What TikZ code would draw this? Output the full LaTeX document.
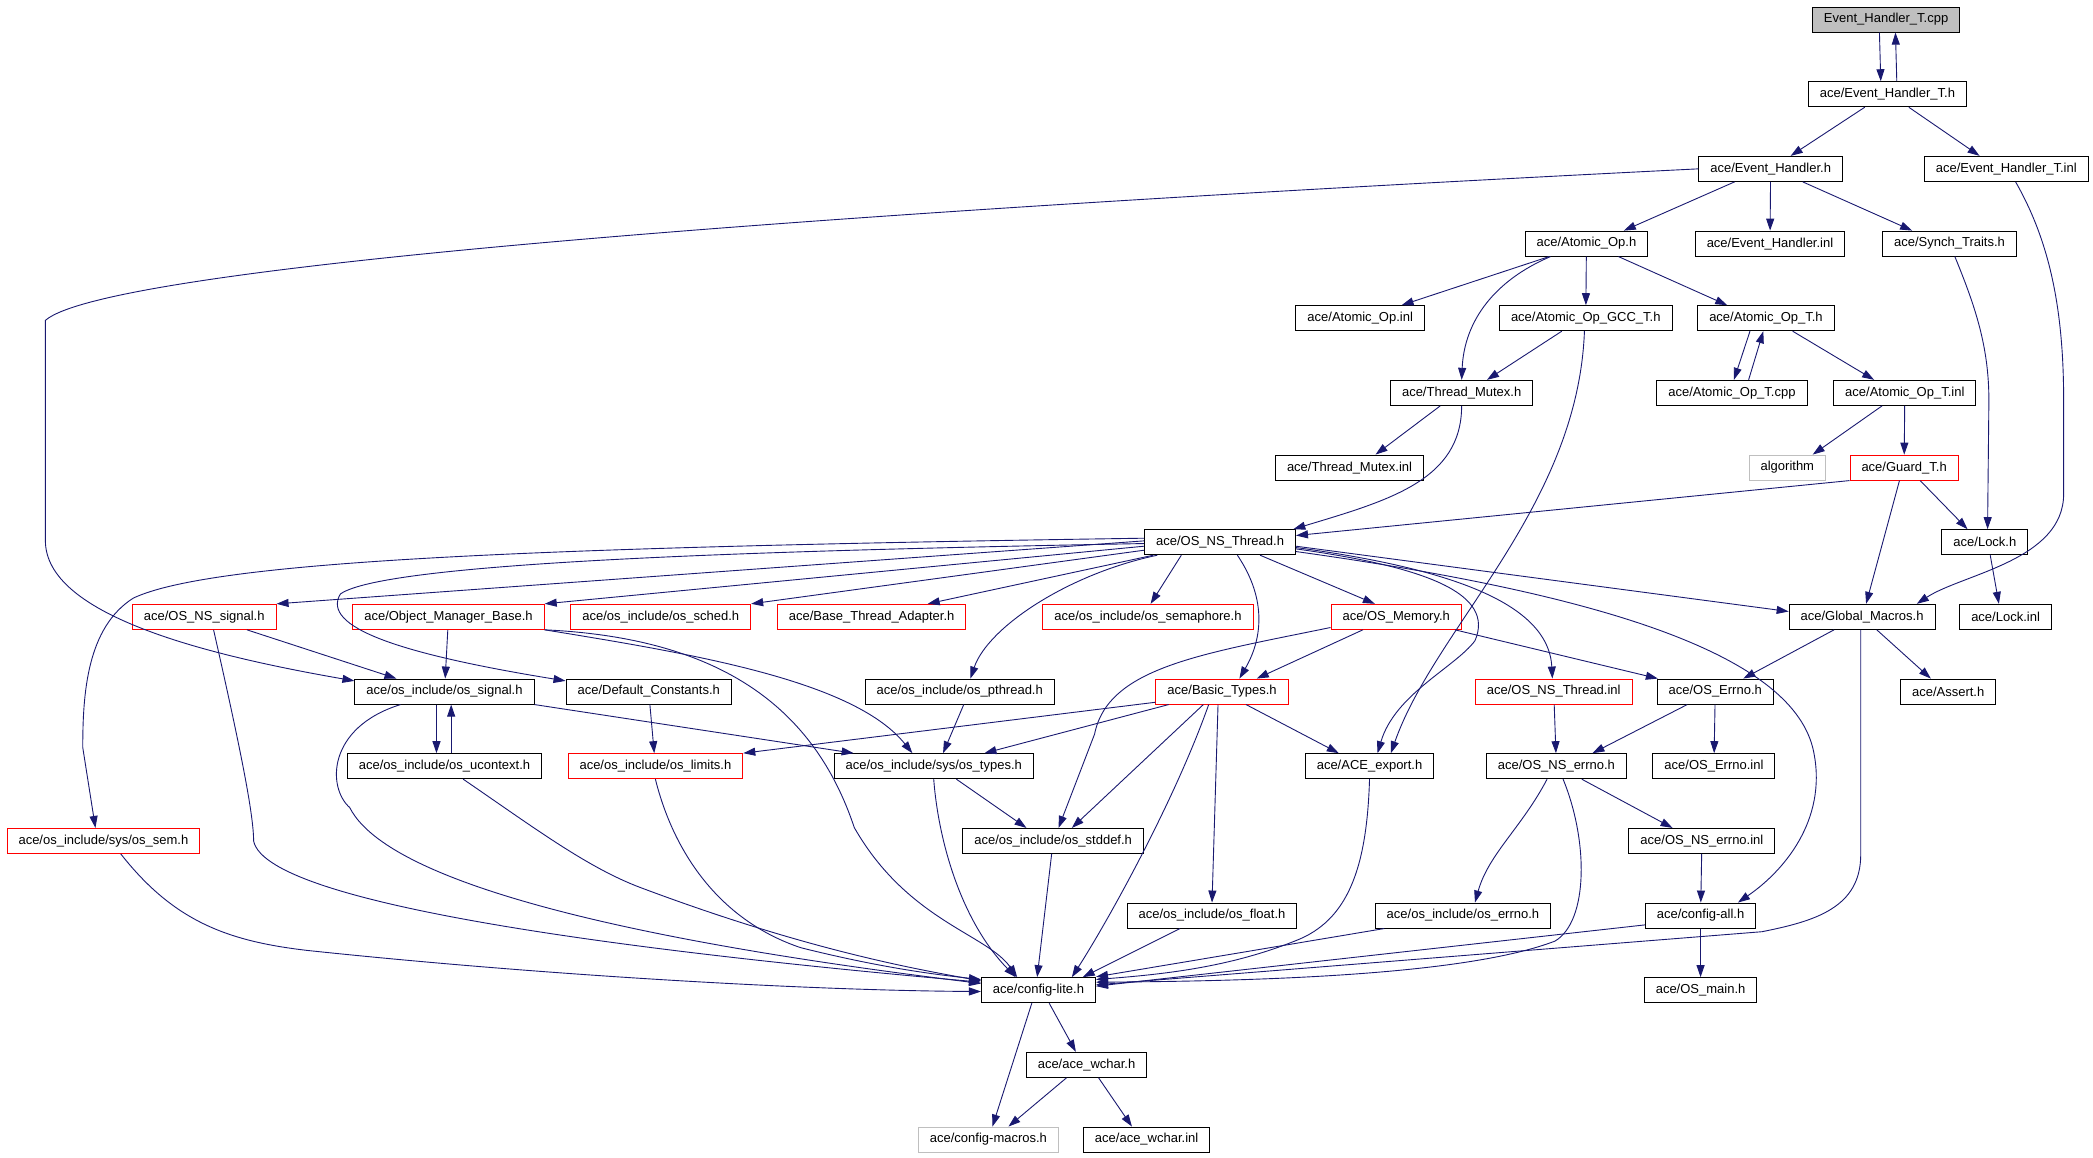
\documentclass[tikz,border=0pt]{standalone}
\usepackage{fontspec}
\setmainfont{Liberation Sans}
\usetikzlibrary{arrows.meta}
\definecolor{edgeblue}{HTML}{191970}
\definecolor{extgray}{HTML}{BFBFBF}
\begin{document}
\begin{tikzpicture}[x=1.3348pt, y=-1.3348pt,
    file/.style={draw=black, line width=1pt, inner xsep=11.5pt, inner ysep=0pt,
        minimum height=25pt, font=\fontsize{13pt}{15pt}\selectfont},
    redfile/.style={file, draw=red},
    extfile/.style={file, draw=extgray},
    rootfile/.style={file, fill=extgray},
    dep/.style={draw=edgeblue, line width=0.9pt, -{Triangle[length=12pt,width=8pt]}}]
    \useasboundingbox (0,0) rectangle (1568,867);
    % files, row by row
    \node[rootfile] (cpp) at (1413,14.7) {Event\_Handler\_T.cpp};
    \node[file] (eht) at (1414,70.6) {ace/Event\_Handler\_T.h};
    \node[file] (eh) at (1326.5,126.5) {ace/Event\_Handler.h};
    \node[file] (ehtinl) at (1503,126.5) {ace/Event\_Handler\_T.inl};
    \node[file] (aop) at (1188.5,182.5) {ace/Atomic\_Op.h};
    \node[file] (ehinl) at (1326,182.5) {ace/Event\_Handler.inl};
    \node[file] (synch) at (1460.5,182.5) {ace/Synch\_Traits.h};
    \node[file] (aopinl) at (1019,238.4) {ace/Atomic\_Op.inl};
    \node[file] (gcc) at (1188,238.4) {ace/Atomic\_Op\_GCC\_T.h};
    \node[file] (aopt) at (1323,238.4) {ace/Atomic\_Op\_T.h};
    \node[file] (tmutex) at (1095,294.3) {ace/Thread\_Mutex.h};
    \node[file] (aoptcpp) at (1297.5,294.3) {ace/Atomic\_Op\_T.cpp};
    \node[file] (aoptinl) at (1427,294.3) {ace/Atomic\_Op\_T.inl};
    \node[file] (tmutexinl) at (1011,350.3) {ace/Thread\_Mutex.inl};
    \node[extfile] (algo) at (1339,350.3) {algorithm};
    \node[redfile] (guard) at (1426.5,350.3) {ace/Guard\_T.h};
    \node[file] (osthr) at (914,406.2) {ace/OS\_NS\_Thread.h};
    \node[file] (lock) at (1487,406.2) {ace/Lock.h};
    \node[redfile] (nssig) at (153,462.1) {ace/OS\_NS\_signal.h};
    \node[redfile] (omb) at (336,462.1) {ace/Object\_Manager\_Base.h};
    \node[redfile] (sched) at (495,462.1) {ace/os\_include/os\_sched.h};
    \node[redfile] (bta) at (653,462.1) {ace/Base\_Thread\_Adapter.h};
    \node[redfile] (sema) at (860,462.1) {ace/os\_include/os\_semaphore.h};
    \node[redfile] (mem) at (1046,462.1) {ace/OS\_Memory.h};
    \node[file] (gmac) at (1395,462.1) {ace/Global\_Macros.h};
    \node[file] (lockinl) at (1502.5,462.1) {ace/Lock.inl};
    \node[file] (sig) at (333,518.1) {ace/os\_include/os\_signal.h};
    \node[file] (defc) at (486,518.1) {ace/Default\_Constants.h};
    \node[file] (pthr) at (719,518.1) {ace/os\_include/os\_pthread.h};
    \node[redfile] (btypes) at (915.5,518.1) {ace/Basic\_Types.h};
    \node[redfile] (thrinl) at (1164,518.1) {ace/OS\_NS\_Thread.inl};
    \node[file] (errno) at (1285,518.1) {ace/OS\_Errno.h};
    \node[file] (assert) at (1459.5,518.1) {ace/Assert.h};
    \node[file] (ucon) at (333,574) {ace/os\_include/os\_ucontext.h};
    \node[redfile] (limits) at (491,574) {ace/os\_include/os\_limits.h};
    \node[file] (types) at (699.5,574) {ace/os\_include/sys/os\_types.h};
    \node[file] (export) at (1026,574) {ace/ACE\_export.h};
    \node[file] (nserr) at (1166,574) {ace/OS\_NS\_errno.h};
    \node[file] (errinl) at (1284,574) {ace/OS\_Errno.inl};
    \node[redfile] (sem) at (77.5,630) {ace/os\_include/sys/os\_sem.h};
    \node[file] (stddef) at (789,630) {ace/os\_include/os\_stddef.h};
    \node[file] (nserrinl) at (1275,630) {ace/OS\_NS\_errno.inl};
    \node[file] (float) at (908,685.9) {ace/os\_include/os\_float.h};
    \node[file] (oserrno) at (1096,685.9) {ace/os\_include/os\_errno.h};
    \node[file] (cfgall) at (1274,685.9) {ace/config-all.h};
    \node[file] (lite) at (778,741.8) {ace/config-lite.h};
    \node[file] (main) at (1274,741.8) {ace/OS\_main.h};
    \node[file] (wchar) at (814,797.7) {ace/ace\_wchar.h};
    \node[extfile] (macros) at (740.5,853.7) {ace/config-macros.h};
    \node[file] (wcharinl) at (859,853.7) {ace/ace\_wchar.inl};
    % top part
    \draw[dep] ([shift={(-5,0)}]cpp.south) -- ([shift={(-5,0)}]eht.north);
    \draw[dep] ([shift={(7,0)}]eht.north) -- ([shift={(7,0)}]cpp.south);
    \draw[dep] ([shift={(-17,0)}]eht.south) -- ([shift={(15,0)}]eh.north);
    \draw[dep] ([shift={(16,0)}]eht.south) -- ([shift={(-20,0)}]ehtinl.north);
    \draw[dep] ([shift={(-27,0)}]eh.south) -- ([shift={(28,0)}]aop.north);
    \draw[dep] (eh) -- (ehinl);
    \draw[dep] ([shift={(24,0)}]eh.south) -- ([shift={(-28,0)}]synch.north);
    \draw[dep] (eh.west) .. controls (600,160) and (80,200) .. (34,240) -- (34,405)
        .. controls (34,460) and (150,490) .. ([shift={(0,-8)}]sig.west);
    \draw[dep] ([shift={(7,0)}]ehtinl.south) .. controls (1535,180) and (1546,230) .. (1546,300)
        -- (1546,370) .. controls (1546,420) and (1470,430) .. ([shift={(41,0)}]gmac.north);
    \draw[dep] ([shift={(-28,0)}]aop.south) -- ([shift={(31,0)}]aopinl.north);
    \draw[dep] (aop) -- (gcc);
    \draw[dep] ([shift={(24,0)}]aop.south) -- ([shift={(-29,0)}]aopt.north);
    \draw[dep] ([shift={(-27,0)}]aop.south) .. controls (1120,210) and (1097,240) .. (tmutex.north);
    \draw[dep] ([shift={(4,0)}]synch.south) .. controls (1480,230) and (1490,260) .. (1490,300)
        -- ([shift={(2,0)}]lock.north);
    \draw[dep] ([shift={(-18,0)}]gcc.south) -- ([shift={(19,0)}]tmutex.north);
    \draw[dep] ([shift={(-1,0)}]gcc.south) .. controls (1182,380) and (1075,470) .. ([shift={(16,0)}]export.north);
    \draw[dep] ([shift={(-12,0)}]aopt.south) -- ([shift={(1.5,0)}]aoptcpp.north);
    \draw[dep] ([shift={(12.5,0)}]aoptcpp.north) -- ([shift={(-2,0)}]aopt.south);
    \draw[dep] ([shift={(20,0)}]aopt.south) -- ([shift={(-23,0)}]aoptinl.north);
    \draw[dep] ([shift={(-16,0)}]tmutex.south) -- ([shift={(19.5,0)}]tmutexinl.north);
    \draw[dep] (tmutex.south) .. controls (1095,360) and (1040,375) .. ([shift={(-2,0)}]osthr.north east);
    \draw[dep] ([shift={(-17,0)}]aoptinl.south) -- ([shift={(19,0)}]algo.north);
    \draw[dep] (aoptinl) -- (guard);
    \draw[dep] (guard.south west) -- ([shift={(0,-5)}]osthr.east);
    \draw[dep] ([shift={(12,0)}]guard.south) -- ([shift={(-13,0)}]lock.north);
    \draw[dep] ([shift={(-3.5,0)}]guard.south) -- ([shift={(3,0)}]gmac.north);
    \draw[dep] ([shift={(4,0)}]lock.south) -- ([shift={(-5,0)}]lockinl.north);
    % ace/OS_NS_Thread.h
    \draw[dep] ([shift={(0,-3)}]osthr.west) .. controls (400,410) and (160,420) .. (100,448)
        .. controls (65,470) and (62,520) .. (62,560) -- ([shift={(-6,0)}]sem.north);
    \draw[dep] ([shift={(0,-1)}]osthr.west) -- (nssig.north east);
    \draw[dep] ([shift={(0,1)}]osthr.west) .. controls (600,412) and (290,420) .. (255,445)
        .. controls (240,470) and (300,490) .. ([shift={(0,-8)}]defc.west);
    \draw[dep] ([shift={(0,3)}]osthr.west) -- (omb.north east);
    \draw[dep] ([shift={(0,6)}]osthr.west) -- (sched.north east);
    \draw[dep] ([shift={(-50,0)}]osthr.south) -- ([shift={(42,0)}]bta.north);
    \draw[dep] ([shift={(-29,0)}]osthr.south) -- ([shift={(2,0)}]sema.north);
    \draw[dep] ([shift={(-47,0)}]osthr.south) .. controls (800,430) and (740,470) .. ([shift={(8,0)}]pthr.north);
    \draw[dep] ([shift={(13,0)}]osthr.south) .. controls (950,450) and (945,480) .. ([shift={(13,0)}]btypes.north);
    \draw[dep] ([shift={(30,0)}]osthr.south) -- ([shift={(-16,0)}]mem.north);
    \draw[dep] ([shift={(0,3)}]osthr.east) -- ([shift={(0,-4)}]gmac.west);
    \draw[dep] ([shift={(0,4)}]osthr.east) .. controls (1080,425) and (1160,450) .. ([shift={(-1,0)}]thrinl.north);
    \draw[dep] ([shift={(0,5)}]osthr.east) .. controls (1070,425) and (1120,445) .. (1105,480)
        .. controls (1090,500) and (1045,520) .. ([shift={(6,0)}]export.north);
    \draw[dep] ([shift={(0,7)}]osthr.east) .. controls (1200,445) and (1340,490) .. (1358,560)
        .. controls (1370,610) and (1340,650) .. ([shift={(28,0)}]cfgall.north);
    % middle rows
    \draw[dep] ([shift={(32,0)}]nssig.south) -- ([shift={(-36,0)}]sig.north);
    \draw[dep] ([shift={(7,0)}]nssig.south) .. controls (180,560) and (190,610) .. (190,630)
        .. controls (200,680) and (500,715) .. ([shift={(0,-6)}]lite.west);
    \draw[dep] (omb) -- (sig);
    \draw[dep] (omb.south east) .. controls (520,490) and (640,510) .. ([shift={(-16,0)}]types.north);
    \draw[dep] (omb.south east) .. controls (540,478) and (610,530) .. (640,620)
        .. controls (680,690) and (740,700) .. ([shift={(-16,0)}]lite.north);
    \draw[dep] ([shift={(-6,0)}]sig.south) -- ([shift={(-6,0)}]ucon.north);
    \draw[dep] ([shift={(5,0)}]ucon.north) -- ([shift={(5,0)}]sig.south);
    \draw[dep] (sig.south east) -- ([shift={(-60,0)}]types.north);
    \draw[dep] ([shift={(-33,0)}]sig.south) .. controls (245,545) and (245,590) .. (262,605)
        .. controls (300,680) and (600,720) .. ([shift={(0,-5)}]lite.west);
    \draw[dep] ([shift={(14,0)}]ucon.south) .. controls (400,620) and (440,650) .. (480,665)
        .. controls (600,710) and (680,725) .. ([shift={(0,-7)}]lite.west);
    \draw[dep] (defc) -- (limits);
    \draw[dep] (limits.south) .. controls (505,640) and (540,690) .. (600,710)
        .. controls (660,725) and (700,730) .. ([shift={(0,-8)}]lite.west);
    \draw[dep] ([shift={(3,0)}]pthr.south) -- ([shift={(7,0)}]types.north);
    \draw[dep] ([shift={(17,0)}]types.south) -- ([shift={(-20,0)}]stddef.north);
    \draw[dep] (types.south) .. controls (703,630) and (720,690) .. ([shift={(-17,0)}]lite.north);
    \draw[dep] (stddef) -- ([shift={(-1,0)}]lite.north);
    \draw[dep] ([shift={(0,8)}]btypes.west) -- (limits.north east);
    \draw[dep] ([shift={(-40,0)}]btypes.south) -- ([shift={(38,0)}]types.north);
    \draw[dep] ([shift={(-14,0)}]btypes.south) -- ([shift={(14,0)}]stddef.north);
    \draw[dep] ([shift={(-3,0)}]btypes.south) -- (float.north);
    \draw[dep] ([shift={(-10,0)}]btypes.south) .. controls (880,600) and (830,690) .. ([shift={(25,0)}]lite.north);
    \draw[dep] ([shift={(18,0)}]btypes.south) -- ([shift={(-23,0)}]export.north);
    \draw[dep] ([shift={(-25,0)}]mem.south) -- ([shift={(26,0)}]btypes.north);
    \draw[dep] ([shift={(44,0)}]mem.south) -- ([shift={(-43,0)}]errno.north);
    \draw[dep] ([shift={(0,8)}]mem.west) .. controls (900,490) and (830,500) .. (820,550)
        -- ([shift={(4,0)}]stddef.north);
    \draw[dep] (thrinl) -- (nserr);
    \draw[dep] ([shift={(-21,0)}]errno.south) -- ([shift={(27,0)}]nserr.north);
    \draw[dep] (errno) -- (errinl);
    \draw[dep] ([shift={(-21,0)}]gmac.south) -- ([shift={(21,0)}]errno.north);
    \draw[dep] ([shift={(11,0)}]gmac.south) -- ([shift={(-13,0)}]assert.north);
    \draw[dep] ([shift={(-1,0)}]gmac.south) -- (1394,640) .. controls (1394,680) and (1360,690) .. (1320,698)
        -- ([shift={(0,-4)}]lite.east);
    \draw[dep] (export.south) .. controls (1024,650) and (1010,690) .. (970,705)
        .. controls (920,725) and (870,730) .. ([shift={(0,-8)}]lite.east);
    \draw[dep] ([shift={(-7,0)}]nserr.south) .. controls (1140,620) and (1115,640) .. ([shift={(9,0)}]oserrno.north);
    \draw[dep] ([shift={(19,0)}]nserr.south) -- ([shift={(-22,0)}]nserrinl.north);
    \draw[dep] ([shift={(5,0)}]nserr.south) .. controls (1190,630) and (1190,690) .. (1165,705)
        .. controls (1100,730) and (950,735) .. ([shift={(0,-6)}]lite.east);
    \draw[dep] (nserrinl) -- (cfgall);
    % into ace/config-lite.h
    \draw[dep] ([shift={(13,0)}]sem.south) .. controls (130,690) and (170,705) .. (230,712)
        .. controls (400,730) and (600,742) .. ([shift={(0,1)}]lite.west);
    \draw[dep] ([shift={(-24,0)}]float.south) -- ([shift={(-10,0)}]lite.north east);
    \draw[dep] ([shift={(-59,0)}]oserrno.south) -- ([shift={(0,-10)}]lite.east);
    \draw[dep] ([shift={(0,7)}]cfgall.west) -- ([shift={(0,-3)}]lite.east);
    \draw[dep] (cfgall) -- (main);
    % bottom
    \draw[dep] ([shift={(8,0)}]lite.south) -- ([shift={(-8,0)}]wchar.north);
    \draw[dep] ([shift={(-5,0)}]lite.south) -- ([shift={(3,0)}]macros.north);
    \draw[dep] ([shift={(-15,0)}]wchar.south) -- ([shift={(15,0)}]macros.north);
    \draw[dep] ([shift={(9,0)}]wchar.south) -- ([shift={(-11,0)}]wcharinl.north);
\end{tikzpicture}
\end{document}
